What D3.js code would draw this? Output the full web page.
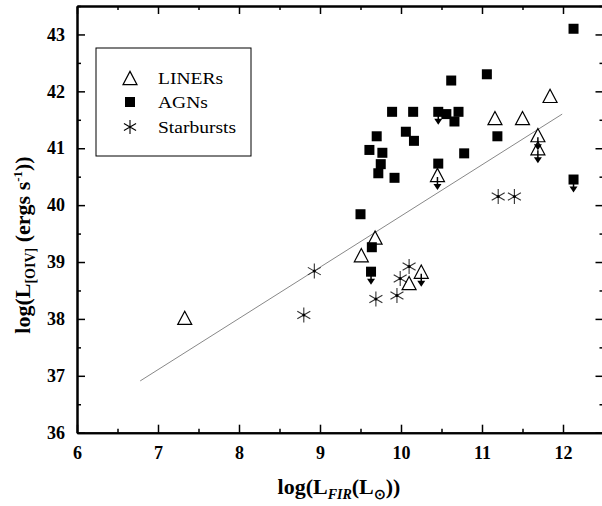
<!DOCTYPE html>
<html lang="en">
<head>
<meta charset="utf-8" />
<title>L[OIV] vs L_FIR</title>
<script src="https://d3js.org/d3.v7.min.js"></script>
<style>
    body { margin: 0; background: #fff; }
    text { font-family: "Liberation Serif", "Times New Roman", serif; }
    .axis-title { font-size: 22px; font-weight: bold; }
    .legend text { font-size: 16px; }
</style>
</head>
<body>
<svg width="602" height="506"></svg>
<script>
    // LINERs: [logLfir, logLoiv, upper limit?]
    var linerX = [7.33, 9.51, 9.68, 10.25, 10.10, 10.45, 11.16, 11.50, 11.84, 11.69, 11.69];
    var linerY = [38.02, 39.12, 39.43, 38.83, 38.63, 40.53, 41.53, 41.53, 41.92, 41.23, 41.00];
    var linerUL = [0, 0, 0, 1, 0, 1, 0, 0, 0, 1, 1];

    // AGNs
    var agnX = [10.62, 9.89, 10.15, 10.46, 10.56, 10.71, 10.66, 12.13, 11.06, 11.19, 9.70, 10.06,
                10.16, 9.61, 9.77, 9.75, 9.72, 9.92, 10.46, 10.78, 9.50, 9.64, 9.63, 12.13];
    var agnY = [42.19, 41.64, 41.64, 41.64, 41.60, 41.64, 41.47, 43.10, 42.30, 41.21, 41.21, 41.29,
                41.13, 40.97, 40.92, 40.72, 40.56, 40.48, 40.73, 40.91, 39.84, 39.26, 38.83, 40.45];
    var agnUL = [0, 0, 0, 1, 0, 0, 0, 0, 0, 0, 0, 0,
                 0, 0, 0, 0, 0, 0, 0, 0, 0, 0, 1, 1];

    // Starbursts
    var sbX = [8.80, 8.93, 10.10, 9.99, 9.69, 9.95, 11.20, 11.40];
    var sbY = [38.07, 38.84, 38.92, 38.71, 38.35, 38.41, 40.15, 40.15];

    // fitted line end points
    var fitX = [6.78, 11.99];
    var fitY = [36.91, 41.60];

    var xTicks = [6, 7, 8, 9, 10, 11, 12];
    var yTicks = [36, 37, 38, 39, 40, 41, 42, 43];
    var legendNames = ["LINERs", "AGNs", "Starbursts"];

    var svg = d3.select("svg");

    var x = d3.scaleLinear().domain([6, 12.5]).range([77, 603.5]);
    var y = d3.scaleLinear().domain([36, 43.5]).range([432.7, 6]);

    var minorX = d3.range(6, 12.51, 0.5).filter(function (d) { return d % 1 !== 0; });
    var minorY = d3.range(36, 43.51, 0.5).filter(function (d) { return d % 1 !== 0; });

    // fit line
    svg.append("line")
        .attr("x1", x(fitX[0])).attr("y1", y(fitY[0]))
        .attr("x2", x(fitX[1])).attr("y2", y(fitY[1]))
        .attr("stroke", "#888").attr("stroke-width", 1);

    // axes (ticks point inwards)
    function addAxis(axis, transform, labels) {
        var g = svg.append("g").attr("transform", transform).call(axis);
        g.select(".domain").attr("stroke-width", 2);
        g.selectAll(".tick line").attr("stroke-width", 1.5);
        if (!labels) g.selectAll(".tick text").remove();
        return g;
    }

    addAxis(d3.axisBottom(x).tickValues(xTicks).tickSizeInner(-8).tickSizeOuter(0).tickPadding(14).tickFormat(d3.format("d")),
        "translate(0," + y(36) + ")", true);
    addAxis(d3.axisBottom(x).tickValues(minorX).tickSizeInner(-4).tickSizeOuter(0), "translate(0," + y(36) + ")", false);
    addAxis(d3.axisTop(x).tickValues(xTicks).tickSizeInner(-8).tickSizeOuter(0), "translate(0," + y(43.5) + ")", false);
    addAxis(d3.axisTop(x).tickValues(minorX).tickSizeInner(-4).tickSizeOuter(0), "translate(0," + y(43.5) + ")", false);

    addAxis(d3.axisLeft(y).tickValues(yTicks).tickSizeInner(-8).tickSizeOuter(0).tickPadding(12).tickFormat(d3.format("d")),
        "translate(" + x(6) + ",0)", true);
    addAxis(d3.axisLeft(y).tickValues(minorY).tickSizeInner(-4).tickSizeOuter(0), "translate(" + x(6) + ",0)", false);
    addAxis(d3.axisRight(y).tickValues(yTicks).tickSizeInner(-8).tickSizeOuter(0), "translate(" + x(12.5) + ",0)", false);
    addAxis(d3.axisRight(y).tickValues(minorY).tickSizeInner(-4).tickSizeOuter(0), "translate(" + x(12.5) + ",0)", false);

    svg.selectAll(".tick text")
        .attr("fill", "#000")
        .style("font-family", "'Liberation Serif', serif")
        .style("font-size", "18px")
        .style("font-weight", "bold");

    // marker shapes
    function trianglePath(s) {
        var h = s * 0.8;
        return "M0," + (-h / 2 - 1) + "L" + (s / 2) + "," + (h / 2 + 1) + "L" + (-s / 2) + "," + (h / 2 + 1) + "Z";
    }
    function asteriskPath(r) {
        var a = r * Math.cos(Math.PI / 6), b = r * Math.sin(Math.PI / 6);
        return "M0," + (-r) + "L0," + r +
            "M" + (-a) + "," + (-b) + "L" + a + "," + b +
            "M" + (-a) + "," + b + "L" + a + "," + (-b);
    }
    function drawArrow(g, cx, cy) {
        g.append("line").attr("x1", cx).attr("y1", cy).attr("x2", cx).attr("y2", cy + 8)
            .attr("stroke", "#000").attr("stroke-width", 1.5);
        g.append("path").attr("d", "M" + (cx - 4) + "," + (cy + 7) + "L" + (cx + 4) + "," + (cy + 7) + "L" + cx + "," + (cy + 13) + "Z")
            .attr("fill", "#000");
    }

    var pts = svg.append("g");

    // starbursts
    sbX.forEach(function (v, i) {
        pts.append("path").attr("d", asteriskPath(7.5))
            .attr("transform", "translate(" + x(v) + "," + y(sbY[i]) + ")")
            .attr("stroke", "#333").attr("stroke-width", 1.1).attr("fill", "none");
        pts.append("circle").attr("cx", x(v)).attr("cy", y(sbY[i])).attr("r", 1.5).attr("fill", "#000");
    });

    // AGNs
    agnX.forEach(function (v, i) {
        var cx = x(v), cy = y(agnY[i]);
        if (agnUL[i]) drawArrow(pts, cx, cy);
        pts.append("rect").attr("x", cx - 5).attr("y", cy - 5).attr("width", 10).attr("height", 10).attr("fill", "#000");
    });

    // LINERs
    linerX.forEach(function (v, i) {
        var cx = x(v), cy = y(linerY[i]);
        if (linerUL[i]) drawArrow(pts, cx, cy + 2);
        pts.append("path").attr("d", trianglePath(14))
            .attr("transform", "translate(" + cx + "," + cy + ")")
            .attr("fill", "none").attr("stroke", "#000").attr("stroke-width", 1.2);
    });

    // legend
    var legend = svg.append("g").attr("class", "legend");
    legend.append("rect").attr("x", 96).attr("y", 48).attr("width", 155).attr("height", 108)
        .attr("fill", "#fff").attr("stroke", "#000").attr("stroke-width", 1);
    var ly = [78, 102, 127];
    legend.append("path").attr("d", trianglePath(14)).attr("transform", "translate(130," + ly[0] + ")")
        .attr("fill", "none").attr("stroke", "#000").attr("stroke-width", 1.2);
    legend.append("rect").attr("x", 125).attr("y", ly[1] - 5).attr("width", 10).attr("height", 10).attr("fill", "#000");
    legend.append("path").attr("d", asteriskPath(7)).attr("transform", "translate(130," + ly[2] + ")")
        .attr("stroke", "#000").attr("stroke-width", 1.1).attr("fill", "none");
    legendNames.forEach(function (n, i) {
        legend.append("text")
            .attr("transform", "translate(158," + (ly[i] + 6) + ") scale(1.22,1)")
            .text(n);
    });

    // axis titles
    var xt = svg.append("text").attr("class", "axis-title").attr("x", 339).attr("y", 494).attr("text-anchor", "middle");
    xt.append("tspan").text("log(L");
    xt.append("tspan").attr("dy", 5).attr("font-size", "14px").attr("font-style", "italic").text("FIR");
    xt.append("tspan").attr("dy", -5).text("(L");
    xt.append("tspan").attr("dy", 5).attr("font-size", "14px").text("\u2299");
    xt.append("tspan").attr("dy", -5).text("))");

    var yt = svg.append("text").attr("class", "axis-title").attr("text-anchor", "middle")
        .attr("transform", "translate(30,245) rotate(-90)");
    yt.append("tspan").text("log(L");
    yt.append("tspan").attr("dy", 5).attr("font-size", "14px").text("[OIV]");
    yt.append("tspan").attr("dy", -5).text(" (ergs s");
    yt.append("tspan").attr("dy", -8).attr("font-size", "13px").text("-1");
    yt.append("tspan").attr("dy", 8).text("))");
</script>
</body>
</html>
